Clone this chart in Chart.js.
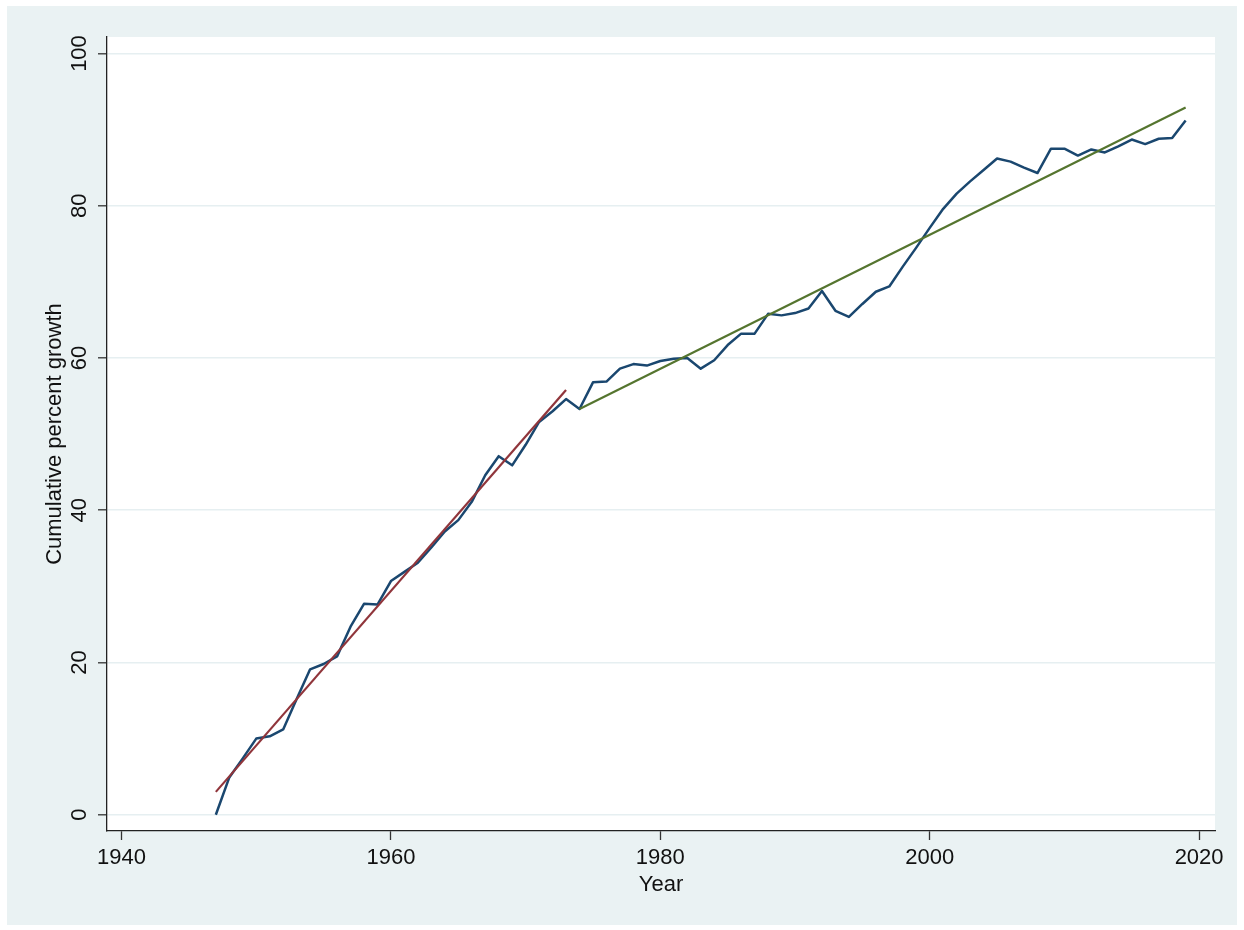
<!DOCTYPE html>
<html>
<head>
<meta charset="utf-8">
<title>Cumulative percent growth</title>
<script src="https://cdn.jsdelivr.net/npm/chart.js@4.4.1/dist/chart.umd.min.js"></script>
<style>
  html, body { margin: 0; padding: 0; background: #ffffff; }
  #frame {
    position: absolute; left: 7px; top: 6px;
    width: 1230px; height: 919px;
    background: #eaf2f3;
  }
  #chart { display: block; }
</style>
</head>
<body>
<div id="frame"><canvas id="chart" width="1230" height="919"></canvas></div>
<script>
// Annual series, 1947-2019
const years = [
  1947, 1948, 1949, 1950, 1951, 1952, 1953, 1954, 1955, 1956,
  1957, 1958, 1959, 1960, 1961, 1962, 1963, 1964, 1965, 1966,
  1967, 1968, 1969, 1970, 1971, 1972, 1973, 1974, 1975, 1976,
  1977, 1978, 1979, 1980, 1981, 1982, 1983, 1984, 1985, 1986,
  1987, 1988, 1989, 1990, 1991, 1992, 1993, 1994, 1995, 1996,
  1997, 1998, 1999, 2000, 2001, 2002, 2003, 2004, 2005, 2006,
  2007, 2008, 2009, 2010, 2011, 2012, 2013, 2014, 2015, 2016,
  2017, 2018, 2019
];
const growth = [
  0.0, 4.9, 7.4, 10.0, 10.3, 11.2, 15.2, 19.1, 19.8, 20.8,
  24.7, 27.7, 27.6, 30.7, 31.9, 33.1, 35.1, 37.2, 38.7, 41.1,
  44.6, 47.1, 45.9, 48.6, 51.6, 53.0, 54.6, 53.3, 56.8, 56.9,
  58.6, 59.2, 59.0, 59.6, 59.9, 60.0, 58.6, 59.7, 61.7, 63.2,
  63.2, 65.8, 65.6, 65.9, 66.5, 68.8, 66.2, 65.4, 67.1, 68.7,
  69.4, 72.0, 74.5, 77.1, 79.6, 81.6, 83.2, 84.7, 86.2, 85.8,
  85.0, 84.3, 87.5, 87.5, 86.6, 87.4, 87.0, 87.8, 88.7, 88.1,
  88.8, 88.9, 91.2
];

// Linear fits for the two periods (endpoints of each fitted line)
const fitEarlyYears = [1947, 1973];
const fitEarlyValues = [3.0, 55.8];
const fitLateYears = [1974, 2019];
const fitLateValues = [53.3, 92.9];

// Axis ticks
const xTicks = [1940, 1960, 1980, 2000, 2020];
const yTicks = [0, 20, 40, 60, 80, 100];

const pairs = (xs, ys) => xs.map((x, i) => ({ x: x, y: ys[i] }));

const FONT = '"Liberation Sans", Arial, Helvetica, sans-serif';
const INK = '#111111';

// White plot region inside the tinted graph region
const plotRegion = {
  id: 'plotRegion',
  beforeDraw(chart) {
    const a = chart.chartArea;
    const ctx = chart.ctx;
    ctx.save();
    ctx.fillStyle = '#ffffff';
    ctx.fillRect(a.left, a.top, a.right - a.left, a.bottom - a.top);
    ctx.restore();
  }
};

new Chart(document.getElementById('chart'), {
  type: 'line',
  data: {
    datasets: [
      {
        label: 'Cumulative percent growth',
        data: pairs(years, growth),
        borderColor: '#1a476f',
        borderWidth: 2.5,
        pointRadius: 0,
        tension: 0,
        borderJoinStyle: 'round',
        order: 1
      },
      {
        label: 'Fit 1947-1973',
        data: pairs(fitEarlyYears, fitEarlyValues),
        borderColor: '#90353b',
        borderWidth: 2.2,
        pointRadius: 0,
        tension: 0,
        order: 0
      },
      {
        label: 'Fit 1974-2019',
        data: pairs(fitLateYears, fitLateValues),
        borderColor: '#55752f',
        borderWidth: 2.2,
        pointRadius: 0,
        tension: 0,
        order: 0
      }
    ]
  },
  options: {
    responsive: false,
    animation: false,
    events: [],
    layout: { padding: { top: 31, right: 22, left: 0, bottom: 0 } },
    plugins: {
      legend: { display: false },
      tooltip: { enabled: false },
      title: { display: false }
    },
    scales: {
      x: {
        type: 'linear',
        min: 1938.92,
        max: 2021.18,
        afterBuildTicks(scale) { scale.ticks = xTicks.map(v => ({ value: v })); },
        afterFit(scale) { scale.height = 94; },
        ticks: {
          color: INK,
          font: { family: FONT, size: 22 },
          padding: 5,
          maxRotation: 0,
          minRotation: 0,
          callback: v => String(v)
        },
        grid: {
          drawOnChartArea: false,
          drawTicks: true,
          tickLength: 9,
          tickColor: '#333333',
          tickWidth: 1.3
        },
        border: { display: true, color: '#222222', width: 1.3 },
        title: {
          display: true,
          text: 'Year',
          color: INK,
          font: { family: FONT, size: 22 },
          padding: { top: 0, bottom: 27 }
        }
      },
      y: {
        type: 'linear',
        min: -2.14,
        max: 102.17,
        afterBuildTicks(scale) { scale.ticks = yTicks.map(v => ({ value: v })); },
        afterFit(scale) { scale.width = 100; },
        ticks: {
          color: INK,
          font: { family: FONT, size: 22 },
          padding: 0,
          minRotation: 90,
          maxRotation: 90,
          crossAlign: 'center',
          callback: v => String(v)
        },
        grid: {
          color: '#e6eff1',
          lineWidth: 1.6,
          drawTicks: true,
          tickLength: 9,
          tickColor: '#333333',
          tickWidth: 1.3
        },
        border: { display: true, color: '#222222', width: 1.3 },
        title: {
          display: true,
          text: 'Cumulative percent growth',
          color: INK,
          font: { family: FONT, size: 22 },
          padding: { top: 35, bottom: 0 }
        }
      }
    }
  },
  plugins: [plotRegion]
});
</script>
</body>
</html>
